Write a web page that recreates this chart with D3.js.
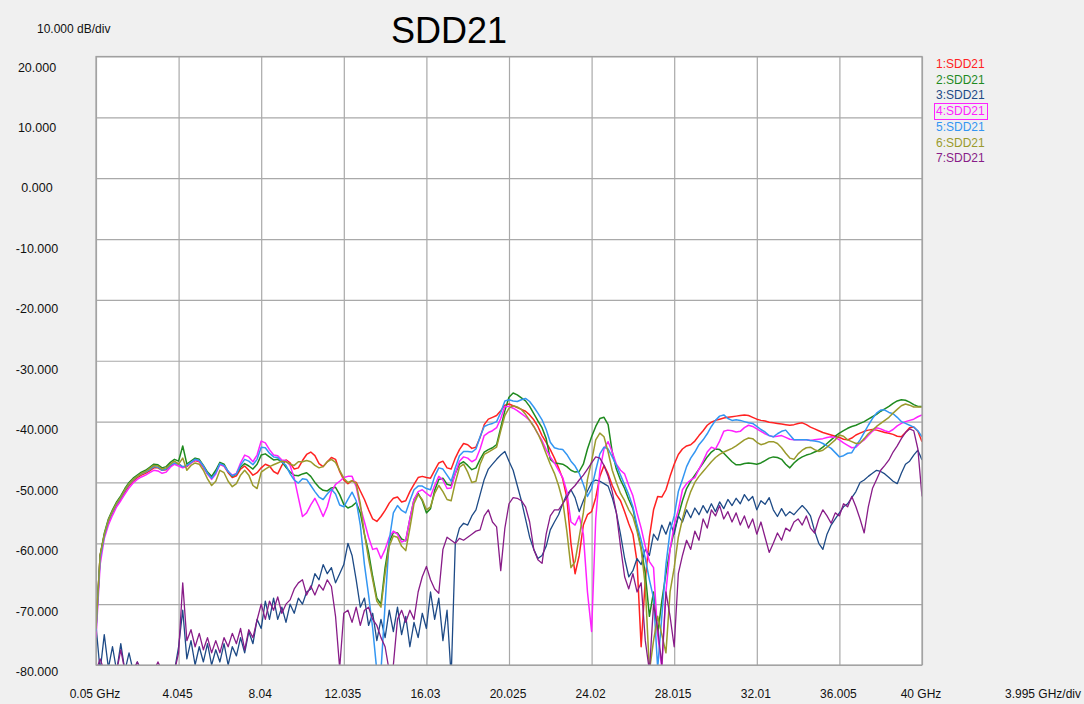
<!DOCTYPE html>
<html><head><meta charset="utf-8">
<script src="https://cdn.jsdelivr.net/npm/d3@7"></script>
<style>
html,body{margin:0;padding:0;background:#f0f0f0;}
svg{display:block;font-family:"Liberation Sans",Arial,sans-serif;}
</style></head><body>
<svg id="chart" width="1084" height="704"></svg>
<script>
// VNA sweep: 201 points, linear from 0.05 GHz to 40 GHz
const sweepStartGHz = 0.05, sweepStopGHz = 40, sweepPoints = 201;
const freqGHz = d3.range(sweepPoints).map(i => sweepStartGHz + i * (sweepStopGHz - sweepStartGHz) / (sweepPoints - 1));

const xTickValues = [0.05, 4.045, 8.04, 12.035, 16.03, 20.025, 24.02, 28.015, 32.01, 36.005, 40];
const xTickLabels = ["0.05 GHz", "4.045", "8.04", "12.035", "16.03", "20.025", "24.02", "28.015", "32.01", "36.005", "40 GHz"];
const yTickValues = [20, 10, 0, -10, -20, -30, -40, -50, -60, -70, -80];
const yTickLabels = ["20.000", "10.000", "0.000", "-10.000", "-20.000", "-30.000", "-40.000", "-50.000", "-60.000", "-70.000", "-80.000"];

const traceNames = ["1:SDD21", "2:SDD21", "3:SDD21", "4:SDD21", "5:SDD21", "6:SDD21", "7:SDD21"];

// Trace data, dB
const sdd21_1 = [
-74, -62, -58.7, -56.5, -55, -53.8, -52.8, -51.6, -50.5, -49.8,
-49.2, -48.8, -48.5, -48.1, -47.6, -47.6, -48.0, -47.9, -47.3, -46.9,
-46.9, -47.5, -47.4, -46.8, -46.4, -46.6, -47.5, -48.6, -49.2, -48.3,
-47.0, -47.3, -48.4, -49.2, -48.9, -47.8, -47.3, -48.0, -48.8, -48.4,
-47.6, -47.0, -47.3, -48.2, -48.6, -47.2, -46.3, -46.8, -47.8, -47.6,
-46.4, -45.4, -45.0, -45.6, -46.9, -47.4, -46.6, -45.9, -46.2, -48.2,
-49.6, -50.2, -49.7, -50.0, -51.4, -52.8, -54.5, -56.0, -56.4, -55.6,
-54.6, -53.4, -52.6, -52.4, -53.2, -53.0, -51.5, -50.3, -49.2, -49.0,
-49.2, -49.3, -48.0, -46.8, -46.5, -47.6, -47.8, -46.0, -44.6, -43.6,
-43.8, -44.4, -44.2, -42.6, -40.5, -39.6, -39.3, -39.0, -38.2, -37.3,
-37.1, -37.4, -37.7, -38.0, -38.3, -38.9, -39.7, -40.8, -42.3, -43.4,
-44.6, -46.0, -47.6, -49.4, -52.5, -60.0, -65.0, -62.0, -57.0, -55.3,
-54.8, -52.5, -49.0, -47.2, -48.6, -50.5, -52.0, -53.0, -54.8, -56.8,
-58.5, -63.0, -77.0, -66.0, -59.0, -54.5, -52.3, -52.4, -51.2, -49.0,
-47.0, -45.4, -44.5, -44.0, -43.8, -43.2, -42.3, -41.5, -40.6, -40.1,
-39.8, -39.6, -39.4, -39.3, -39.2, -39.1, -39.0, -38.9, -39.0, -39.3,
-39.6, -39.8, -39.9, -40.1, -40.2, -40.3, -40.4, -40.5, -40.6, -40.5,
-40.3, -40.2, -40.5, -40.9, -41.2, -41.5, -41.8, -42.0, -42.2, -42.4,
-42.6, -42.9, -43.0, -42.7, -42.2, -41.9, -41.6, -41.4, -41.3, -41.4,
-41.6, -41.8, -41.9, -42.1, -42.4, -42.5, -41.8, -41.0, -40.9, -41.6, -43.3
];
const sdd21_2 = [
-74, -62, -58.4, -56.0, -54.5, -53.2, -52.2, -51.0, -50.0, -49.3,
-48.8, -48.3, -48.0, -47.5, -47.0, -47.1, -47.6, -47.4, -46.7, -46.2,
-46.5, -44.0, -47.0, -46.5, -46.0, -46.2, -47.2, -48.3, -49.0, -48.0,
-46.7, -47.0, -48.2, -49.0, -48.6, -47.5, -46.9, -47.3, -47.8, -47.0,
-45.5, -45.3, -45.8, -46.3, -46.2, -46.6, -47.5, -48.3, -48.8, -48.9,
-48.6, -48.4, -49.0, -50.0, -50.8, -51.3, -51.4, -50.9, -50.8, -52.0,
-53.6, -54.2, -53.9, -53.3, -55.0, -58.5, -61.5, -65.5, -69.0, -70.0,
-64.0, -59.8, -58.2, -58.3, -59.3, -59.6, -56.0, -52.8, -51.8, -53.0,
-55.0, -54.3, -51.3, -49.5, -49.3, -50.3, -50.5, -48.5, -47.0, -46.6,
-47.2, -47.9, -47.6, -46.2, -45.0, -44.6, -44.3, -43.8, -41.0, -38.2,
-36.0, -35.3, -35.6, -36.1, -36.6, -37.5, -38.7, -39.9, -41.0, -42.8,
-46.2, -46.8, -46.9, -47.0, -47.4, -48.0, -48.3, -48.2, -47.0, -44.5,
-42.5, -40.8, -39.5, -39.3, -40.5, -45.0, -47.8, -49.6, -51.0, -52.8,
-54.3, -57.5, -60.8, -65.0, -72.0, -68.0, -75.0, -69.5, -65.0, -61.0,
-58.0, -55.5, -53.0, -51.0, -49.8, -48.8, -47.8, -46.8, -45.8, -45.0,
-44.5, -44.6, -45.2, -45.9, -46.6, -47.1, -47.1, -46.9, -46.8, -46.9,
-47.0, -46.8, -46.4, -46.0, -45.8, -45.9, -46.2, -47.0, -47.6, -46.8,
-46.2, -45.8, -45.5, -45.3, -45.0, -44.7, -44.2, -43.6, -43.0, -42.4,
-41.9, -41.5, -41.1, -40.8, -40.6, -40.3, -40.0, -39.6, -39.2, -38.8,
-38.3, -37.9, -37.5, -37.0, -36.6, -36.4, -36.5, -36.8, -37.2, -37.5, -37.5
];
const sdd21_3 = [
-73.5, -81, -75.0, -80.5, -77.0, -81, -76.5, -81, -78.0, -81,
-79.5, -81, -81, -81, -81, -81, -81, -81, -80.5, -81,
-77, -71, -79, -76, -80, -77, -79.5, -76.5, -80, -77.5,
-79.5, -76.5, -80, -77, -78.5, -75.5, -78, -74.5, -76.5, -72.5,
-74, -69.5, -72.5, -69.0, -72.5, -70.5, -73.0, -70.0, -71.5, -69.0,
-70.0, -68.0, -67.5, -65.0, -66.0, -63.5, -65.0, -64.0, -66.5, -65.0,
-63.5, -60.0, -62.0, -66.0, -70.5, -69.0, -73.5, -71.5, -76.0, -72.5,
-75.5, -71.0, -74.5, -70.5, -75.0, -72.0, -77.0, -73.0, -75.5, -71.5,
-74.0, -68.0, -72.5, -69.0, -76.0, -71.0, -82.0, -60.0, -57.5, -56.7,
-57.0, -55.5, -54.5, -52.0, -49.5, -47.8, -47.0, -46.2, -45.5, -44.9,
-46.5, -48.0, -50.5, -53.0, -56.0, -59.0, -61.0, -62.5, -62.0, -60.5,
-57.8, -56.5, -55.3, -53.5, -52.0, -51.2, -52.5, -54.8, -53.0, -51.4,
-50.0, -49.6, -49.8, -50.2, -50.6, -52.5, -55.0, -58.5, -62.5, -65.5,
-64.5, -62.5, -63.5, -61.0, -62.0, -58.5, -59.5, -57.0, -58.5, -56.5,
-58.5, -55.5, -56.5, -54.5, -55.8, -54.2, -55.3, -53.8, -55.0, -53.5,
-54.8, -53.2, -54.3, -52.8, -53.8, -52.6, -53.5, -52.0, -53.0, -52.3,
-54.5, -53.0, -53.6, -52.5, -54.5, -55.6, -54.3, -55.5, -54.8, -55.3,
-54.5, -53.8, -54.5, -55.5, -58.0, -60.0, -61.0, -58.5, -57.0, -56.0,
-55.0, -54.0, -53.5, -52.5, -51.5, -50.0, -49.6, -49.0, -48.5, -48.0,
-48.2, -48.6, -49.2, -49.8, -50.2, -48.5, -47.0, -46.5, -45.5, -44.7, -46.3
];
const sdd21_4 = [
-75.5, -63.5, -59.2, -57.0, -55.4, -54.0, -53.0, -51.9, -50.9, -50.1,
-49.5, -49.1, -48.8, -48.4, -48.0, -48.1, -48.5, -48.3, -47.5, -47.0,
-47.3, -47.6, -47.3, -46.8, -46.3, -46.5, -47.4, -48.6, -49.5, -48.6,
-47.0, -47.3, -48.2, -48.8, -48.5, -46.8, -45.5, -45.8, -46.6, -45.5,
-43.2, -43.5, -44.6, -45.5, -45.6, -46.3, -46.4, -47.2, -49.3, -52.5,
-55.6, -55.0, -53.7, -52.6, -54.0, -55.6, -54.0, -51.5, -50.3, -49.8,
-49.2, -49.0, -49.0, -50.7, -54.0, -56.5, -59.0, -61.0, -60.8, -62.5,
-61.0, -59.0, -58.0, -58.5, -59.8, -59.5, -56.0, -52.8, -51.5, -51.2,
-51.8, -52.3, -50.5, -49.0, -49.6, -51.0, -50.9, -48.5, -46.5, -45.8,
-46.0, -46.6, -46.2, -44.5, -42.3, -41.8, -41.5, -41.0, -39.5, -37.5,
-37.5, -37.8, -38.2, -38.7, -39.2, -39.8, -40.8, -42.0, -43.1, -44.6,
-45.8, -46.8, -48.0, -49.2, -51.5, -56.5, -57.0, -55.5, -58.5, -68.0,
-74.5, -56.0, -48.0, -44.5, -43.3, -45.0, -47.0, -48.0, -48.6, -50.5,
-52.2, -55.0, -57.5, -60.5, -63.0, -64.0, -75.0, -80.5, -68.0, -61.0,
-57.0, -54.5, -51.2, -50.2, -49.6, -49.2, -47.8, -46.5, -45.0, -44.2,
-44.5, -43.2, -41.6, -41.4, -41.5, -41.7, -41.6, -41.0, -40.6, -40.8,
-41.2, -41.6, -42.0, -42.3, -42.5, -42.4, -42.3, -42.6, -42.9, -43.0,
-43.0, -43.0, -43.0, -43.1, -43.0, -42.9, -42.8, -42.6, -42.5, -42.6,
-43.0, -43.5, -43.9, -44.3, -44.2, -43.5, -43.0, -42.3, -41.6, -41.0,
-41.2, -41.5, -41.7, -41.3, -40.7, -40.3, -40.0, -39.8, -39.6, -39.2, -38.9
];
const sdd21_5 = [
-74.5, -62.5, -58.8, -56.3, -54.8, -53.5, -52.5, -51.3, -50.3, -49.6,
-49.0, -48.6, -48.3, -47.9, -47.4, -47.5, -48.0, -47.8, -47.2, -46.8,
-47.0, -47.4, -47.2, -46.7, -46.2, -46.4, -47.3, -48.5, -49.3, -48.4,
-46.9, -47.2, -48.2, -48.9, -48.6, -47.2, -46.2, -46.5, -47.1, -46.2,
-44.2, -44.3, -45.2, -45.8, -45.9, -46.6, -47.2, -48.6, -49.6, -50.1,
-49.4, -49.5, -50.5, -51.5, -52.4, -52.8, -51.9, -51.1, -51.9, -53.7,
-54.0, -52.8, -51.6, -53.0, -57.0, -63.5, -68.5, -74.0, -81.0, -81.0,
-70.0, -59.5, -55.0, -53.8, -54.6, -55.0, -53.0, -51.2, -50.6, -50.6,
-51.0, -51.2, -49.0, -47.6, -47.8, -48.8, -49.8, -47.6, -45.6, -44.9,
-44.9, -45.0, -44.5, -42.5, -40.8, -40.5, -40.3, -40.0, -38.5, -36.6,
-36.4, -36.6, -36.7, -36.4, -36.2, -36.7, -37.6, -38.6, -39.7, -41.3,
-43.4, -44.3, -44.5, -44.6, -45.4, -46.5, -47.3, -48.5, -50.3, -52.3,
-51.0, -48.0, -45.3, -44.2, -44.5, -45.8, -47.2, -48.8, -50.4, -52.0,
-54.0, -57.0, -59.5, -62.5, -66.0, -69.0, -80.5, -72.0, -63.5, -58.0,
-55.5, -51.5, -49.5, -47.4, -46.0, -45.0, -43.8, -43.0, -42.0, -40.8,
-39.8, -39.1, -38.9, -39.5, -39.8, -39.7, -39.8, -40.0, -40.2, -40.3,
-40.8, -41.3, -41.7, -42.3, -42.5, -42.0, -41.6, -41.4, -42.2, -43.0,
-43.0, -43.0, -43.0, -43.1, -43.2, -43.3, -43.6, -44.0, -44.4, -45.1,
-45.8, -45.6, -45.2, -45.1, -44.0, -43.0, -41.8, -40.6, -39.5, -38.6,
-38.1, -38.1, -38.5, -38.7, -39.3, -40.0, -40.3, -40.6, -40.9, -41.5, -42.5
];
const sdd21_6 = [
-74, -62, -58.6, -56.2, -54.7, -53.4, -52.4, -51.2, -50.2, -49.5,
-49.0, -48.5, -48.2, -47.7, -47.2, -47.3, -47.8, -47.6, -47.0, -46.5,
-47.0, -46.0, -48.0, -47.2, -46.8, -47.0, -48.0, -49.4, -50.5, -49.8,
-48.0, -48.4, -49.8, -50.7, -50.2, -48.8, -48.0, -48.8, -50.5, -51.0,
-48.3, -47.8, -47.4, -47.1, -46.8, -46.5, -46.6, -47.0, -47.2, -46.6,
-46.6, -46.4, -46.6, -47.2, -47.6, -47.4, -46.6, -46.2, -46.7, -48.0,
-49.3, -50.0, -49.7, -50.2, -53.5, -58.5, -62.5, -66.0, -69.5, -70.5,
-65.0, -60.5, -58.8, -59.0, -60.5, -61.2, -57.5, -53.5, -52.0, -52.8,
-54.5, -54.0, -51.8, -50.5, -51.5, -52.8, -53.0, -50.0, -47.5, -47.0,
-48.3, -50.0, -49.8, -47.0, -45.4, -45.0, -44.6, -44.2, -41.5, -39.0,
-37.8, -37.4, -37.6, -38.0, -38.8, -39.8, -40.8, -42.0, -43.5, -45.3,
-47.0, -48.5, -50.5, -53.0, -58.0, -64.0, -63.0, -59.0, -55.0, -49.5,
-46.5, -43.0, -41.9, -42.5, -45.0, -48.0, -50.0, -51.8, -53.0, -54.5,
-55.6, -58.0, -61.0, -67.0, -81.0, -76.0, -72.0, -75.0, -78.0, -68.0,
-64.0, -59.0, -56.0, -53.5, -51.5, -50.0, -49.0, -48.2, -47.4, -46.6,
-45.9, -45.4, -45.0, -44.7, -44.4, -44.0, -43.5, -43.0, -42.7, -42.8,
-43.4, -43.8, -43.6, -43.3, -43.3, -43.6, -44.3, -45.2, -46.0, -46.2,
-45.3, -44.7, -44.3, -44.2, -44.6, -44.9, -44.7, -44.2, -43.6, -43.0,
-42.2, -42.4, -43.0, -43.3, -43.6, -43.5, -42.8, -42.0, -41.4, -40.8,
-40.3, -39.8, -39.3, -38.6, -38.0, -37.4, -37.1, -37.3, -37.6, -37.6, -37.6
];
const sdd21_7 = [
-81, -79, -81, -81, -81, -81, -77.5, -81, -81, -81,
-79.5, -81, -81, -81, -81, -79.5, -81, -81, -81, -81,
-78, -66.5, -76, -74.2, -77, -74.8, -77.5, -75.5, -78, -76,
-78, -75.5, -77, -74.8, -76.5, -74, -77.5, -74.2, -75.5, -72.6,
-70.0, -72.5, -69.5, -71.0, -68.8, -71.5, -70.0, -69.3, -67.5, -66.5,
-66.0, -68.5, -67.0, -68.5, -66.8, -67.7, -66.0, -67.1, -72.0, -80.5,
-71.5, -71.0, -73.0, -70.5, -73.5, -71.0, -70.5, -72.5, -73.5, -75.5,
-77, -81, -80, -72.5, -71.0, -73.0, -71.0, -72.5, -68.0, -65.5,
-63.8, -66.0, -67.5, -68.2, -61.0, -59.0, -59.5, -60.0, -59.2, -59.5,
-59.0, -58.5, -58.0, -57.8, -55.5, -54.5, -56.5, -57.3, -64.5, -57.5,
-53.5, -52.5, -52.6, -53.0, -54.0, -56.5, -61.0, -62.7, -63.3, -58.5,
-55.5, -54.5, -54.5, -53.5, -52.5, -51.2, -50.5, -49.6, -48.8, -47.8,
-46.8, -45.8, -46.0, -47.2, -49.0, -51.5, -55.0, -60.5, -65.5, -67.5,
-65.0, -68.0, -66.5, -76.0, -81.0, -70.0, -74.0, -80.0, -68.0, -72.0,
-77.0, -65.0, -62.0, -59.5, -61.0, -58.0, -59.5, -56.0, -57.5, -54.5,
-55.5, -53.8, -56.0, -54.8, -56.5, -55.0, -57.0, -55.5, -57.5, -56.0,
-58.5, -56.5, -59.0, -61.5, -60.0, -58.3, -59.5, -57.5, -58.0, -56.5,
-56.0, -57.0, -55.5, -57.5, -58.3, -56.0, -54.5, -55.5, -56.7, -55.0,
-55.5, -53.5, -54.0, -52.3, -54.0, -56.0, -58.3, -54.0, -51.0, -49.5,
-48.0, -47.2, -46.3, -45.0, -44.0, -42.8, -41.8, -41.2, -41.5, -44.5, -52.3
];

const traces = [sdd21_1, sdd21_2, sdd21_3, sdd21_4, sdd21_5, sdd21_6, sdd21_7];
const traceColors = ["#ff2222", "#1f8a1f", "#1d4a86", "#ff22ff", "#3396f2", "#9a9a2c", "#881c88"];
const traceWidths = [1.5, 1.5, 1.3, 1.5, 1.5, 1.5, 1.3];

const svg = d3.select("#chart");
const plot = { left: 96, top: 56.5, right: 922, bottom: 665 };

const x = d3.scaleLinear().domain([sweepStartGHz, sweepStopGHz]).range([plot.left, plot.right]);
const y = d3.scaleLinear().domain([-80, 20]).range([plot.bottom, plot.top]);
// tick captions sit a little below each gridline, spread evenly down the side
const yLabelPos = d3.scaleLinear().domain([20, -80]).range([71.5, 676]);

svg.append("rect").attr("width", 1084).attr("height", 704).attr("fill", "#f0f0f0");
svg.append("rect")
  .attr("x", plot.left).attr("y", plot.top)
  .attr("width", plot.right - plot.left).attr("height", plot.bottom - plot.top)
  .attr("fill", "#ffffff");

// gridlines
const gridColor = "#a9a9a9";
svg.append("g")
  .attr("transform", `translate(0,${plot.bottom})`)
  .call(d3.axisBottom(x).tickValues(xTickValues).tickSize(-(plot.bottom - plot.top)).tickFormat(""))
  .call(g => g.select(".domain").remove())
  .call(g => g.selectAll("line").attr("stroke", gridColor).attr("stroke-width", 1.2));
svg.append("g")
  .attr("transform", `translate(${plot.left},0)`)
  .call(d3.axisLeft(y).tickValues(yTickValues).tickSize(-(plot.right - plot.left)).tickFormat(""))
  .call(g => g.select(".domain").remove())
  .call(g => g.selectAll("line").attr("stroke", gridColor).attr("stroke-width", 1.2));

// traces
svg.append("clipPath").attr("id", "plotClip")
  .append("rect")
  .attr("x", plot.left).attr("y", plot.top)
  .attr("width", plot.right - plot.left).attr("height", plot.bottom - plot.top);

const line = d3.line()
  .x((d, i) => x(freqGHz[i]))
  .y(d => y(d));

svg.append("g").attr("clip-path", "url(#plotClip)")
  .selectAll("path")
  .data(traces)
  .join("path")
  .attr("d", line)
  .attr("fill", "none")
  .attr("stroke", (d, i) => traceColors[i])
  .attr("stroke-width", (d, i) => traceWidths[i])
  .attr("stroke-linejoin", "round");

// frame
svg.append("rect")
  .attr("x", plot.left).attr("y", plot.top)
  .attr("width", plot.right - plot.left).attr("height", plot.bottom - plot.top)
  .attr("fill", "none").attr("stroke", "#a0a0a0").attr("stroke-width", 1.2);

// y tick captions
svg.append("g").selectAll("text")
  .data(yTickValues)
  .join("text")
  .attr("x", 37).attr("y", d => yLabelPos(d))
  .attr("text-anchor", "middle")
  .attr("font-size", 12.5).attr("fill", "#111")
  .text((d, i) => yTickLabels[i]);

// x tick captions
svg.append("g").selectAll("text")
  .data(xTickValues)
  .join("text")
  .attr("x", d => x(d) - 1).attr("y", 697.5)
  .attr("text-anchor", "middle")
  .attr("font-size", 12).attr("fill", "#111")
  .text((d, i) => xTickLabels[i]);

svg.append("text").attr("x", 1043).attr("y", 697.5).attr("text-anchor", "middle")
  .attr("font-size", 12).attr("fill", "#111").text("3.995 GHz/div");
svg.append("text").attr("x", 37).attr("y", 32.5)
  .attr("font-size", 12).attr("fill", "#111").text("10.000 dB/div");
svg.append("text").attr("x", 449).attr("y", 42.5).attr("text-anchor", "middle")
  .attr("font-size", 36).attr("fill", "#000").text("SDD21");

// legend
const legend = svg.append("g");
legend.selectAll("text")
  .data(traceNames)
  .join("text")
  .attr("x", 936).attr("y", (d, i) => 68 + i * 15.7)
  .attr("font-size", 12)
  .attr("fill", (d, i) => traceColors[i])
  .text(d => d);
legend.append("rect")
  .attr("x", 934.5).attr("y", 103.5).attr("width", 53).attr("height", 16)
  .attr("fill", "none").attr("stroke", traceColors[3]).attr("stroke-width", 1);
</script>
</body></html>
